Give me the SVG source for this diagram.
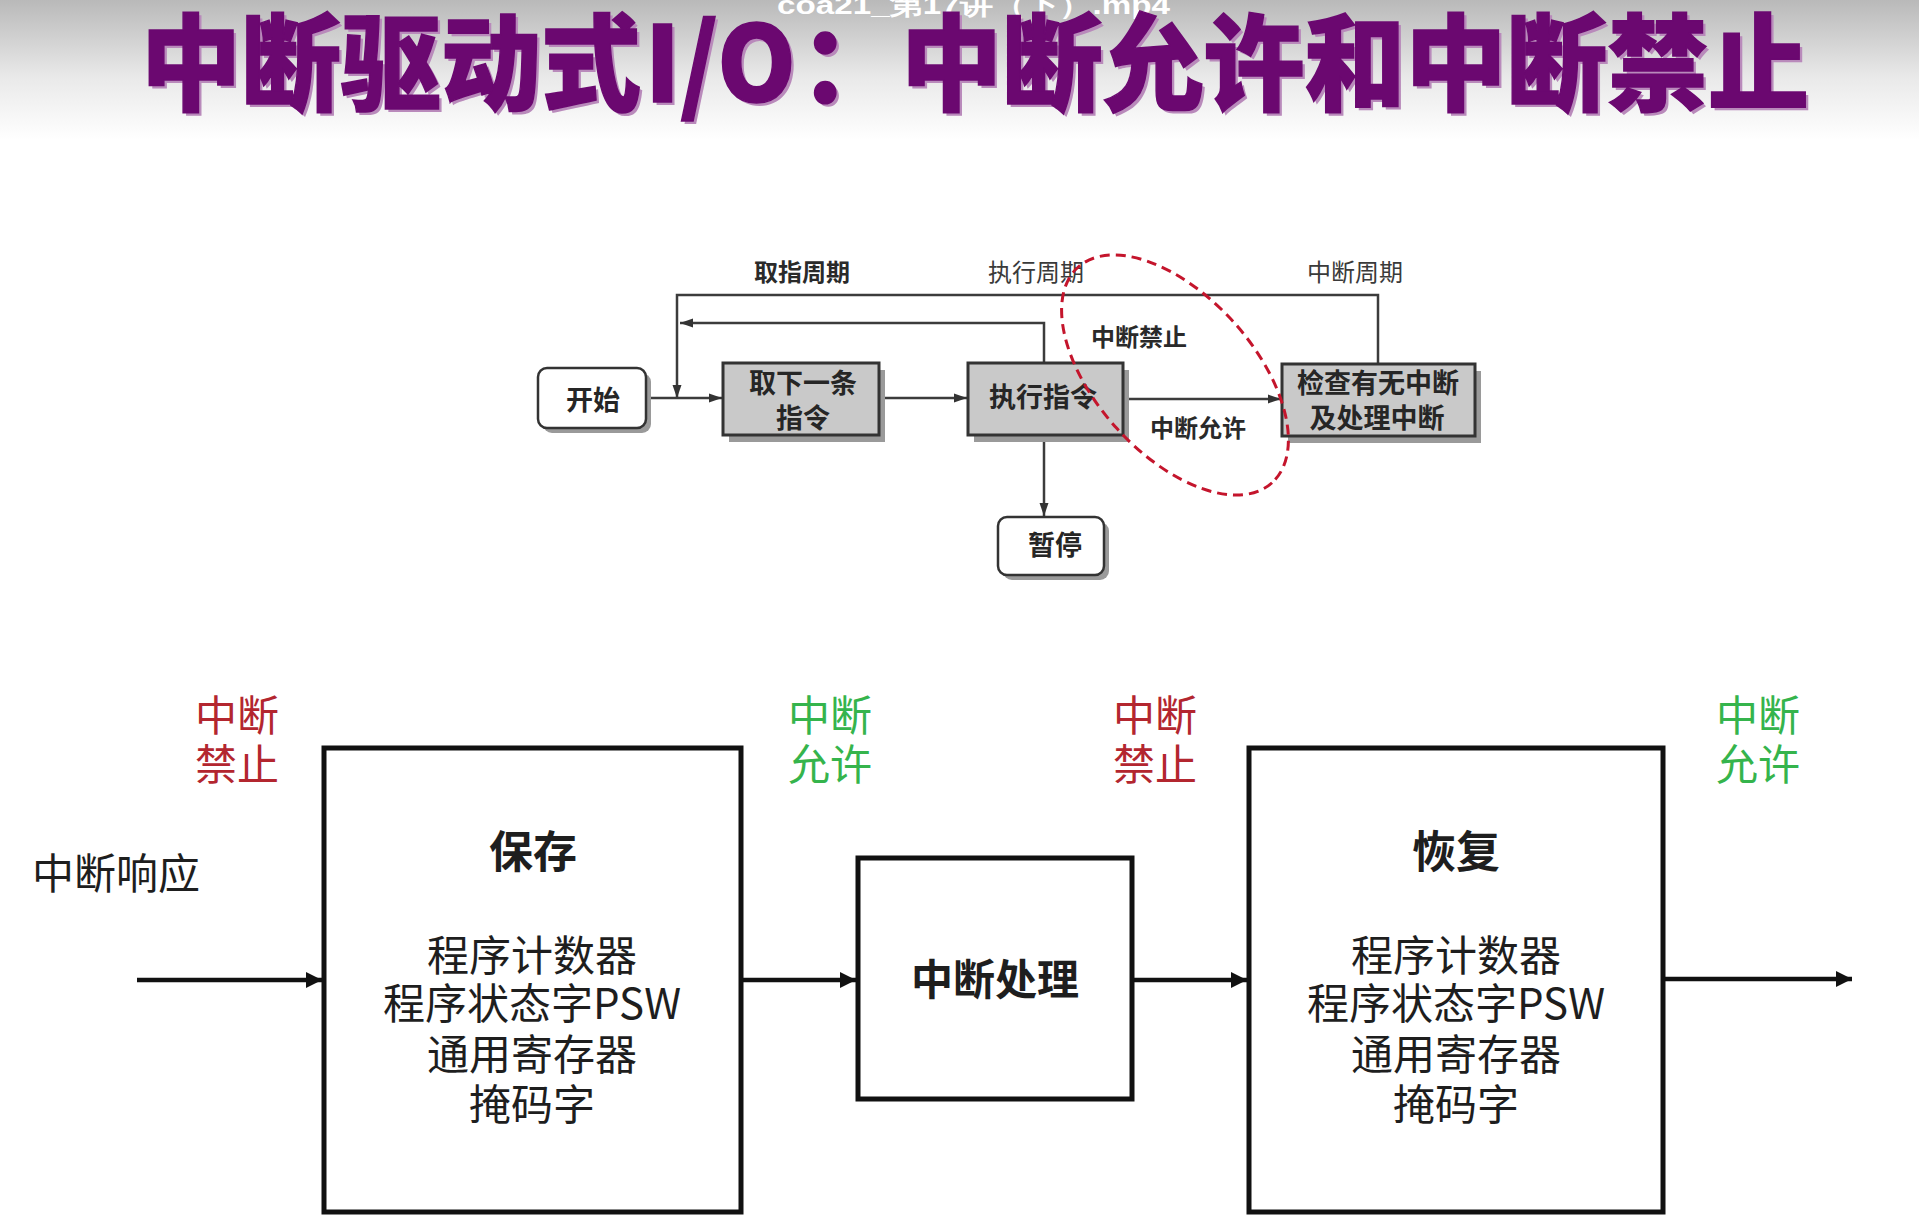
<svg xmlns="http://www.w3.org/2000/svg" width="1919" height="1231" viewBox="0 0 1919 1231">
<defs>
<linearGradient id="hdr" x1="0" y1="0" x2="0" y2="1">
<stop offset="0" stop-color="#b9b9b9"/>
<stop offset="0.55" stop-color="#e9e9e9"/>
<stop offset="1" stop-color="#ffffff"/>
</linearGradient>
<marker id="ahs" markerUnits="userSpaceOnUse" markerWidth="14" markerHeight="10" refX="13" refY="5" orient="auto">
<path d="M0,0.5 L13,5 L0,9.5 z" fill="#333"/>
</marker>
<marker id="ahb" markerUnits="userSpaceOnUse" markerWidth="18" markerHeight="18" refX="16" refY="9" orient="auto">
<path d="M0,1 L16,9 L0,17 z" fill="#111"/>
</marker>
</defs>
<style>
.fct{font-family:"Noto Sans CJK SC",sans-serif;font-weight:700;font-size:27px;fill:#262626;text-anchor:middle}
.fcl{font-family:"Noto Sans CJK SC",sans-serif;font-size:24px;fill:#3a3a3a;text-anchor:middle}
.b{font-weight:700}
.big{font-family:"Noto Sans CJK SC",sans-serif;font-size:42px;fill:#1e1e1e;text-anchor:middle}
.red{fill:#b3262f}
.grn{fill:#35b44c}
.fcbox{fill:#c9c9c9;stroke:#333;stroke-width:3}
.fcrnd{fill:#ffffff;stroke:#333;stroke-width:2.5}
.shd{fill:#9a9a9a}
.fcl-line{fill:none;stroke:#3c3c3c;stroke-width:2.5}
.blk{fill:#ffffff;stroke:#111;stroke-width:5}
.bline{fill:none;stroke:#111;stroke-width:4.5}
.ttl{font-family:"Noto Sans CJK SC",sans-serif;font-weight:900;font-size:105px}
</style>
<rect x="0" y="0" width="1919" height="1231" fill="#ffffff"/>
<rect x="0" y="0" width="1919" height="140" fill="url(#hdr)"/>
<text x="777" y="14" font-family="Liberation Sans, sans-serif" font-weight="700" font-size="26" fill="#ffffff" textLength="393" lengthAdjust="spacingAndGlyphs">coa21_第17讲（下）.mp4</text>

<g id="title">
<g fill="#b98abb" transform="translate(3,3)" class="ttl">
<text x="141" y="102" textLength="500" lengthAdjust="spacingAndGlyphs">中断驱动式</text>
<text x="645" y="102" textLength="151" lengthAdjust="spacingAndGlyphs">I/O</text>
<text x="800" y="102" textLength="1009" lengthAdjust="spacingAndGlyphs">：中断允许和中断禁止</text>
</g>
<g fill="#6b0870" stroke="#6b0870" stroke-width="1.5" class="ttl">
<text x="141" y="102" textLength="500" lengthAdjust="spacingAndGlyphs">中断驱动式</text>
<text x="645" y="102" textLength="151" lengthAdjust="spacingAndGlyphs">I/O</text>
<text x="800" y="102" textLength="1009" lengthAdjust="spacingAndGlyphs">：中断允许和中断禁止</text>
</g>
</g>

<g id="connectors">
<path class="fcl-line" d="M1378,364 V295 H677 V398" marker-end="url(#ahs)"/>
<path class="fcl-line" d="M1044,363 V323 H680" marker-end="url(#ahs)"/>
<line class="fcl-line" x1="646" y1="398" x2="722" y2="398" marker-end="url(#ahs)"/>
<line class="fcl-line" x1="879" y1="398" x2="967" y2="398" marker-end="url(#ahs)"/>
<line class="fcl-line" x1="1123" y1="399" x2="1281" y2="399" marker-end="url(#ahs)"/>
<line class="fcl-line" x1="1044" y1="435" x2="1044" y2="516" marker-end="url(#ahs)"/>
<line class="bline" x1="137" y1="980" x2="322" y2="980" marker-end="url(#ahb)"/>
<line class="bline" x1="741" y1="980" x2="856" y2="980" marker-end="url(#ahb)"/>
<line class="bline" x1="1132" y1="980" x2="1247" y2="980" marker-end="url(#ahb)"/>
<line class="bline" x1="1663" y1="979" x2="1852" y2="979" marker-end="url(#ahb)"/>
</g>

<g id="fc-start">
<rect class="shd" x="543" y="373" width="108" height="60" rx="9"/>
<rect class="fcrnd" x="538" y="368" width="108" height="60" rx="9"/>
<text class="fct" x="593" y="410">开始</text>
</g>
<g id="fc-fetch">
<rect class="shd" x="729" y="370" width="156" height="72"/>
<rect class="fcbox" x="723" y="363" width="156" height="72"/>
<text class="fct" x="803" y="393">取下一条</text>
<text class="fct" x="803" y="428">指令</text>
</g>
<g id="fc-exec">
<rect class="shd" x="974" y="370" width="155" height="72"/>
<rect class="fcbox" x="968" y="363" width="155" height="72"/>
<text class="fct" x="1043" y="407">执行指令</text>
</g>
<g id="fc-check">
<rect class="shd" x="1288" y="371" width="193" height="72"/>
<rect class="fcbox" x="1282" y="364" width="193" height="72"/>
<text class="fct" x="1378" y="393">检查有无中断</text>
<text class="fct" x="1377" y="428">及处理中断</text>
</g>
<g id="fc-halt">
<rect class="shd" x="1003" y="522" width="106" height="58" rx="9"/>
<rect class="fcrnd" x="998" y="517" width="106" height="58" rx="9"/>
<text class="fct" x="1055" y="555">暂停</text>
</g>

<g id="fc-labels">
<text class="fcl b" x="802" y="281" style="fill:#2a2a2a">取指周期</text>
<text class="fcl" x="1036" y="281">执行周期</text>
<text class="fcl" x="1355" y="281">中断周期</text>
<text class="fcl b" x="1139" y="346" style="fill:#2a2a2a">中断禁止</text>
<text class="fcl b" x="1198" y="437" style="fill:#2a2a2a">中断允许</text>
</g>

<ellipse cx="1175" cy="375" rx="145" ry="79" transform="rotate(48 1175 375)" fill="none" stroke="#c4152c" stroke-width="3" stroke-dasharray="10 6"/>

<g id="labels-bottom">
<text class="big red" x="237" y="731">中断</text>
<text class="big red" x="237" y="780">禁止</text>
<text class="big grn" x="830" y="731">中断</text>
<text class="big grn" x="830" y="780">允许</text>
<text class="big red" x="1155" y="731">中断</text>
<text class="big red" x="1155" y="780">禁止</text>
<text class="big grn" x="1758" y="731">中断</text>
<text class="big grn" x="1758" y="780">允许</text>
<text class="big" x="32" y="889" style="text-anchor:start">中断响应</text>
</g>

<g id="save">
<rect class="blk" x="324" y="748" width="417" height="464"/>
<text class="big b" x="533" y="868" style="font-size:44px">保存</text>
<text class="big" x="532" y="971">程序计数器</text>
<text class="big" x="532" y="1019">程序状态字PSW</text>
<text class="big" x="532" y="1070">通用寄存器</text>
<text class="big" x="532" y="1120">掩码字</text>
</g>
<g id="handle">
<rect class="blk" x="858" y="858" width="274" height="241"/>
<text class="big b" x="995" y="995">中断处理</text>
</g>
<g id="restore">
<rect class="blk" x="1249" y="748" width="414" height="464"/>
<text class="big b" x="1456" y="868" style="font-size:44px">恢复</text>
<text class="big" x="1456" y="971">程序计数器</text>
<text class="big" x="1456" y="1019">程序状态字PSW</text>
<text class="big" x="1456" y="1070">通用寄存器</text>
<text class="big" x="1456" y="1120">掩码字</text>
</g>
</svg>
